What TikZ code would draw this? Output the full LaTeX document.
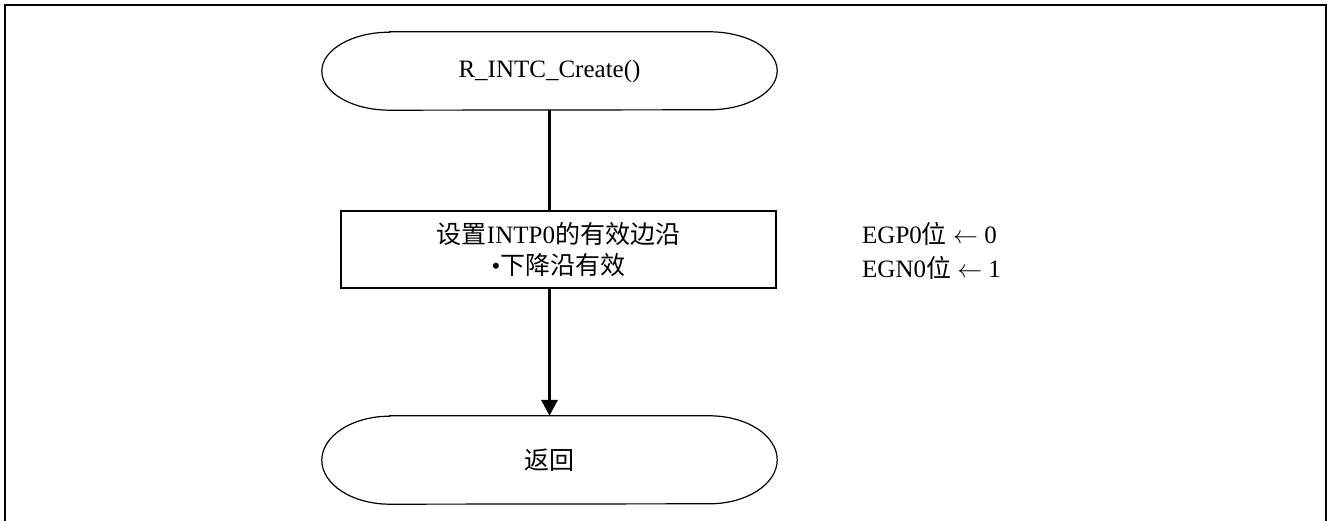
\documentclass[tikz,border=0pt]{standalone}
\usepackage{fontspec}
\setmainfont{Liberation Serif}
\newfontfamily\cjk{Noto Sans CJK SC}
\usetikzlibrary{arrows.meta}

\begin{document}
\begin{tikzpicture}[x=1pt,y=1pt]
%styles
\tikzstyle{terminal}=[rectangle, minimum width=455pt, inner sep=0pt, font=\fontsize{25}{31}\selectfont]
\tikzstyle{process}=[rectangle, draw, line width=1.2pt, minimum width=435pt, minimum height=77pt, inner sep=0pt, align=center, font=\fontsize{25}{31}\selectfont]
\tikzstyle{textLine}=[rectangle, text=black, anchor=west, inner sep=0pt, font=\fontsize{25}{31}\selectfont]
\tikzstyle{flow}=[line width=3.5pt]
%figure
\useasboundingbox (0,0) rectangle (1328,521);
\draw[line width=2.5pt] (5,0) -- (5,516) -- (1326,516) -- (1326,0);

\node[terminal, minimum height=78pt] (start) at (549.5,450) {R\_INTC\_Create()};
\node[process] (setedge) at (558.5,271.5) {{\cjk 设置}INTP0{\cjk 的有效边沿}\\\textbullet{\cjk 下降沿有效}};
\node[terminal, minimum height=88pt] (ret) at (549.5,61) {\cjk 返回};

%outline
\foreach \t/\r in {start/39,ret/44}
  \draw[line width=1.2pt] ([xshift=68pt]\t.north west) -- ([xshift=-68pt]\t.north east)
    arc[start angle=90, end angle=-90, x radius=68pt, y radius=\r pt]
    -- ([xshift=68pt]\t.south west)
    arc[start angle=270, end angle=90, x radius=68pt, y radius=\r pt] -- cycle;

%text
\node[textLine] (egp) at (862,287) {EGP0{\cjk 位} $\leftarrow$ 0};
\node[textLine] (egn) at (862,253) {EGN0{\cjk 位} $\leftarrow$ 1};

%arrows
\draw[flow] (start.south) -- (start.south |- setedge.north);
\draw[flow, -{Triangle[length=16pt, width=16pt]}] (start.south |- setedge.south) -- (ret.north);
\end{tikzpicture}
\end{document}
